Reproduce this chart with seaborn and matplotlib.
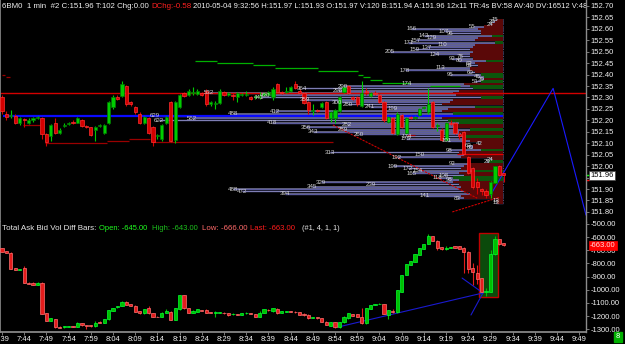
import matplotlib
matplotlib.use("Agg")
import matplotlib.pyplot as plt
from matplotlib.transforms import blended_transform_factory
from matplotlib.patches import Rectangle
import numpy as np
import pandas as pd
import seaborn as sns

# ---------------- DATA ----------------
time_labels = ["7:39", "7:44", "7:49", "7:54", "7:59", "8:04", "8:09", "8:14", "8:19",
               "8:24", "8:29", "8:34", "8:39", "8:44", "8:49", "8:54", "8:59", "9:04",
               "9:09", "9:14", "9:19", "9:24", "9:29", "9:34", "9:39", "9:44", "9:49"]

price_open = [152.30, 152.23, 152.22, 152.22, 152.19, 152.205, 152.19, 152.20, 152.21, 152.21,
              152.14, 152.13, 152.19, 152.145, 152.175, 152.185, 152.195, 152.19, 152.20, 152.175,
              152.17, 152.16, 152.175, 152.145, 152.19, 152.26, 152.30, 152.305, 152.35, 152.28,
              152.26, 152.23, 152.19, 152.21, 152.17, 152.13, 152.12, 152.19, 152.28, 152.115,
              152.26, 152.32, 152.31, 152.32, 152.315, 152.32, 152.33, 152.27, 152.27, 152.275,
              152.325, 152.31, 152.31, 152.30, 152.31, 152.31, 152.30, 152.30, 152.30, 152.31,
              152.31, 152.30, 152.36, 152.325, 152.325, 152.33, 152.36, 152.33, 152.32, 152.28,
              152.24, 152.245, 152.26, 152.28, 152.21, 152.21, 152.24, 152.325, 152.35, 152.30,
              152.30, 152.265, 152.33, 152.305, 152.32, 152.31, 152.28, 152.195, 152.21, 152.14,
              152.225, 152.145, 152.215, 152.21, 152.225, 152.255, 152.235, 152.28, 152.175, 152.16,
              152.115, 152.19, 152.19, 152.14, 152.15, 152.04, 151.99, 151.93, 151.90, 151.89,
              151.88, 151.926, 152.00, 151.97]
price_high = [152.31, 152.24, 152.245, 152.23, 152.215, 152.21, 152.21, 152.215, 152.22, 152.215,
              152.145, 152.185, 152.21, 152.165, 152.19, 152.195, 152.20, 152.215, 152.205, 152.18,
              152.17, 152.175, 152.185, 152.185, 152.285, 152.31, 152.31, 152.37, 152.355, 152.285,
              152.265, 152.235, 152.22, 152.215, 152.175, 152.14, 152.185, 152.22, 152.285, 152.285,
              152.315, 152.325, 152.335, 152.345, 152.335, 152.325, 152.335, 152.285, 152.285, 152.335,
              152.33, 152.325, 152.32, 152.325, 152.32, 152.33, 152.305, 152.31, 152.325, 152.325,
              152.33, 152.345, 152.365, 152.33, 152.345, 152.35, 152.37, 152.335, 152.325, 152.285,
              152.27, 152.25, 152.28, 152.285, 152.24, 152.25, 152.305, 152.35, 152.355, 152.305,
              152.305, 152.37, 152.34, 152.325, 152.33, 152.315, 152.285, 152.22, 152.215, 152.235,
              152.23, 152.215, 152.22, 152.22, 152.255, 152.265, 152.34, 152.285, 152.19, 152.165,
              152.195, 152.20, 152.195, 152.15, 152.155, 152.045, 151.995, 151.95, 151.905, 151.90,
              151.935, 152.00, 152.005, 151.97]
price_low = [152.23, 152.20, 152.21, 152.185, 152.18, 152.17, 152.185, 152.195, 152.205, 152.12,
             152.09, 152.11, 152.14, 152.14, 152.17, 152.18, 152.185, 152.19, 152.17, 152.165,
             152.13, 152.11, 152.17, 152.14, 152.185, 152.25, 152.29, 152.30, 152.265, 152.265,
             152.23, 152.185, 152.185, 152.14, 152.09, 152.12, 152.11, 152.185, 152.105, 152.10,
             152.255, 152.30, 152.305, 152.31, 152.31, 152.305, 152.265, 152.265, 152.25, 152.27,
             152.305, 152.305, 152.29, 152.28, 152.305, 152.305, 152.29, 152.295, 152.295, 152.305,
             152.305, 152.29, 152.32, 152.315, 152.32, 152.325, 152.335, 152.315, 152.27, 152.23,
             152.225, 152.235, 152.255, 152.205, 152.195, 152.19, 152.235, 152.32, 152.315, 152.29,
             152.265, 152.26, 152.31, 152.30, 152.31, 152.275, 152.195, 152.19, 152.14, 152.135,
             152.165, 152.14, 152.205, 152.205, 152.22, 152.25, 152.23, 152.165, 152.155, 152.11,
             152.11, 152.18, 152.14, 152.12, 152.05, 151.965, 151.90, 151.88, 151.875, 151.86,
             151.86, 151.925, 151.955, 151.93]
price_close = [152.24, 152.215, 152.22, 152.19, 152.21, 152.20, 152.20, 152.21, 152.215, 152.14,
               152.105, 152.18, 152.145, 152.16, 152.18, 152.19, 152.19, 152.21, 152.176, 152.17,
               152.135, 152.17, 152.18, 152.18, 152.28, 152.30, 152.295, 152.36, 152.27, 152.27,
               152.235, 152.19, 152.215, 152.145, 152.105, 152.135, 152.18, 152.215, 152.11, 152.28,
               152.31, 152.305, 152.33, 152.325, 152.33, 152.31, 152.27, 152.28, 152.275, 152.33,
               152.31, 152.32, 152.305, 152.32, 152.315, 152.315, 152.295, 152.305, 152.305, 152.32,
               152.325, 152.335, 152.325, 152.32, 152.33, 152.345, 152.34, 152.32, 152.275, 152.245,
               152.245, 152.24, 152.275, 152.21, 152.235, 152.245, 152.30, 152.345, 152.32, 152.295,
               152.27, 152.32, 152.325, 152.32, 152.315, 152.28, 152.20, 152.215, 152.145, 152.23,
               152.17, 152.21, 152.21, 152.215, 152.25, 152.26, 152.27, 152.17, 152.18, 152.115,
               152.19, 152.185, 152.145, 152.13, 152.055, 151.97, 151.91, 151.91, 151.89, 151.875,
               151.93, 152.00, 151.96, 151.96]

diff_open = [-686, -706, -719, -837, -850, -837, -946, -946, -961, -946,
             -1178, -1234, -1221, -1279, -1284, -1279, -1274, -1279, -1254, -1269,
             -1269, -1277, -1241, -1249, -1224, -1158, -1133, -1120, -1090, -1108,
             -1120, -1160, -1178, -1140, -1178, -1203, -1208, -1173, -1166, -1229,
             -1148, -1039, -1140, -1173, -1166, -1153, -1153, -1171, -1176, -1173,
             -1173, -1176, -1186, -1183, -1188, -1178, -1176, -1183, -1203, -1176,
             -1150, -1163, -1143, -1173, -1168, -1163, -1166, -1171, -1181, -1188,
             -1213, -1208, -1216, -1241, -1272, -1246, -1284, -1246, -1216, -1186,
             -1186, -1208, -1254, -1145, -1115, -1108, -1108, -1191, -1160, -1171,
             -1014, -888, -812, -787, -736, -691, -653, -592, -628, -676,
             -693, -681, -671, -671, -681, -711, -837, -870, -913, -1014,
             -1014, -731, -615, -645]
diff_high = [-680, -704, -715, -835, -842, -820, -944, -944, -944, -944,
             -1176, -1212, -1219, -1277, -1272, -1272, -1272, -1247, -1252, -1267,
             -1267, -1239, -1239, -1219, -1151, -1138, -1121, -1088, -1088, -1106,
             -1118, -1158, -1143, -1123, -1176, -1201, -1171, -1148, -1164, -1138,
             -1037, -1037, -1138, -1156, -1146, -1151, -1143, -1169, -1158, -1166,
             -1171, -1174, -1179, -1181, -1176, -1171, -1174, -1181, -1163, -1146,
             -1148, -1138, -1141, -1161, -1158, -1161, -1164, -1169, -1176, -1186,
             -1206, -1206, -1214, -1239, -1244, -1244, -1244, -1201, -1176, -1184,
             -1184, -1140, -1138, -1113, -1106, -1103, -1106, -1151, -1143, -999,
             -886, -805, -780, -729, -684, -651, -577, -590, -626, -674,
             -666, -674, -669, -669, -679, -709, -797, -812, -911, -990,
             -698, -590, -613, -643]
diff_low = [-711, -721, -845, -848, -852, -946, -954, -961, -963, -1183,
            -1236, -1236, -1286, -1289, -1286, -1281, -1281, -1281, -1271, -1294,
            -1279, -1284, -1251, -1251, -1226, -1160, -1135, -1122, -1117, -1125,
            -1168, -1180, -1180, -1180, -1210, -1210, -1210, -1175, -1231, -1231,
            -1150, -1142, -1175, -1175, -1168, -1162, -1175, -1178, -1203, -1175,
            -1180, -1195, -1188, -1193, -1190, -1180, -1185, -1205, -1205, -1178,
            -1157, -1165, -1180, -1175, -1170, -1170, -1173, -1190, -1196, -1218,
            -1215, -1218, -1243, -1269, -1274, -1286, -1286, -1248, -1218, -1198,
            -1205, -1256, -1256, -1147, -1117, -1110, -1185, -1224, -1178, -1173,
            -1016, -890, -814, -789, -738, -693, -655, -632, -700, -695,
            -695, -683, -683, -693, -875, -875, -964, -959, -1016, -1044,
            -1016, -733, -657, -666]
diff_close = [-711, -721, -845, -848, -842, -946, -954, -961, -946, -1183,
              -1234, -1214, -1284, -1287, -1274, -1274, -1279, -1249, -1269, -1277,
              -1277, -1249, -1249, -1221, -1153, -1140, -1123, -1090, -1115, -1123,
              -1166, -1178, -1145, -1178, -1208, -1208, -1173, -1163, -1229, -1140,
              -1039, -1140, -1173, -1158, -1148, -1160, -1173, -1176, -1171, -1168,
              -1178, -1193, -1181, -1191, -1178, -1173, -1183, -1203, -1176, -1148,
              -1155, -1140, -1178, -1163, -1160, -1168, -1171, -1188, -1188, -1216,
              -1208, -1216, -1241, -1267, -1246, -1284, -1246, -1203, -1178, -1196,
              -1203, -1254, -1140, -1115, -1108, -1105, -1183, -1153, -1168, -1001,
              -888, -807, -782, -731, -686, -653, -592, -630, -681, -693,
              -681, -676, -681, -691, -711, -845, -868, -918, -1014, -1006,
              -731, -615, -655, -663]

# volume ladder (price levels from 152.64 down by one tick of 0.01)
profile_top_price = 152.64
profile_tick = 0.01
profile_volume = [15, 20, 24, 55, 166, 107, 96, 143, 129, 157,
                  171, 110, 137, 159, 205, 124, 78, 92, 80, 62,
                  61, 113, 178, 60, 95, 46, 39, 51, 174, 290,
                  364, 298, 532, 430, 441, 359, 300, 280, 241, 199,
                  412, 488, 629, 562, 622, 418, 282, 356, 289, 343,
                  260, 174, 175, 101, 42, 63, 60, 98, 313, 150,
                  192, 24, 29, 92, 199, 172, 154, 165, 108, 118,
                  98, 329, 239, 345, 488, 472, 394, 141, 83, 13, 13]
profile_delta = [-10, -15, -20, -35, -45, -40, -40, 20, -45, -50,
                 15, -50, -55, -60, -55, -60, -60, -55, 30, -50,
                 -45, -60, -60, -50, 40, 35, -35, 40, -70, 60,
                 55, -80, -90, -85, 40, -90, -95, -110, 50, -100,
                 -110, 90, -100, -110, 100, 80, -90, -85, 60, -80,
                 -75, 70, -70, -60, -40, -55, -55, 40, -80, -70,
                 -75, -20, 25, -60, -70, -75, 50, -80, -70, 90,
                 80, -90, -80, -75, -80, -70, -60, -75, -70, -10, -10]
profile_anchor = 112.8        # bar index where the ladder is anchored
profile_scale = 0.1245        # bar widths per contract

# reference levels and drawn objects (bar index, value)
red_level = 152.32
blue_level = 152.22
blue_level_start = 0.2
support_start = [0.0, 1.0, 4.7, 9.7, 23.6, 28.6, 34.0, 91.2]
support_end = [0.7, 1.8, 8.6, 23.6, 28.6, 33.3, 74.5, 93.0]
support_price = [152.398, 152.389, 152.18, 152.101, 152.11, 152.118, 152.107, 152.136]
bright_red_seg = [102.5, 112.8, 152.053]
step_start = [43.5, 48.4, 56.5, 61.5, 71.2, 80.2, 81.3, 82.9, 85.6, 96.4]
step_end = [48.4, 56.5, 61.5, 71.2, 80.2, 81.3, 82.9, 85.6, 91.9, 103.2]
step_price = [152.459, 152.451, 152.440, 152.428, 152.417, 152.398, 152.389, 152.376, 152.365, 152.35]
trend_red1_t = [74.5, 107.0]
trend_red1_p = [152.18, 151.86]
trend_red2_t = [101.4, 112.2]
trend_red2_p = [151.80, 151.865]
proj_blue_t = [110.0, 124.1, 131.5]
proj_blue_p = [151.874, 152.34, 151.786]
diff_blue1_t = [75.7, 108.3]
diff_blue1_v = [-1282, -1024]
diff_blue2_t = [103.6, 108.3]
diff_blue2_v = [-911, -1024]
diff_blue3_t = [105.6, 108.3]
diff_blue3_v = [-1191, -1024]
box_t = [107.4, 111.7]
box_v = [-1055, -570]
bid_price = 151.94
ask_price = 151.96
price_ticks = [151.80, 151.85, 151.90, 151.95, 152.00, 152.05, 152.10, 152.15, 152.20,
               152.25, 152.30, 152.35, 152.40, 152.45, 152.50, 152.55, 152.60, 152.65, 152.70]
diff_ticks = [-1300, -1200, -1100, -1000, -900, -800, -700, -600, -500]

# ---------------- STYLE ----------------
sns.set_theme(style="dark")
plt.rcParams['font.family'] = ['Liberation Sans', 'DejaVu Sans']
plt.rcParams['axes.facecolor'] = 'black'
plt.rcParams['figure.facecolor'] = 'black'

W, H = 625, 344
fig = plt.figure(figsize=(W / 100, H / 100), dpi=100)
fig.patch.set_facecolor('black')


def rect(x0, y0, x1, y1):
    return [x0 / W, 1 - y1 / H, (x1 - x0) / W, (y1 - y0) / H]


ax1 = fig.add_axes(rect(0, 0, 586, 222))
ax2 = fig.add_axes(rect(0, 222, 586, 332))
GRAY = '#8c8c8c'
for ax in (ax1, ax2):
    ax.set_facecolor('black')
    ax.grid(False)
    for s in ax.spines.values():
        s.set_visible(False)
    ax.spines['right'].set_visible(True)
    ax.spines['right'].set_color(GRAY)
    ax.spines['right'].set_linewidth(1.0)
    ax.spines['left'].set_visible(True)
    ax.spines['left'].set_color(GRAY)
    ax.spines['left'].set_linewidth(1.2)
    ax.set_xlim(-0.45, 131.5)
ax2.spines['bottom'].set_visible(True)
ax2.spines['bottom'].set_color(GRAY)
ax1.set_ylim(151.756, 152.726)
ax2.set_ylim(-1320, -486)

# ---------------- volume ladder ----------------
prof = pd.DataFrame({'volume': profile_volume, 'delta': profile_delta})
prof['price'] = [round(profile_top_price - profile_tick * i, 2) for i in range(len(prof))]
prof['left'] = profile_anchor - prof['volume'] * profile_scale
ax1.hlines(prof['price'], prof['left'], profile_anchor, color='#5c5ca0', lw=1.0, zorder=1)
ax1.hlines(prof['price'] + 0.0035, prof['left'], profile_anchor, color='#9a9ac4', lw=0.4, zorder=1)
blk_w = prof['delta'].abs() * profile_scale
blk_col = np.where(prof['delta'] > 0, '#0c560c', '#5a0808')
ax1.barh(prof['price'], blk_w, left=profile_anchor - blk_w, height=0.0098,
         color=blk_col, linewidth=0, zorder=1.5)

# lines
ax1.hlines(red_level, -0.45, 131.5, color='#d40000', lw=1.0, zorder=2)
ax1.hlines(blue_level, blue_level_start, profile_anchor, color='#0a0aff', lw=1.6, zorder=2)
ax1.hlines(support_price, support_start, support_end, color='#9a0000', lw=0.9, zorder=2)
ax1.hlines(bright_red_seg[2], bright_red_seg[0], bright_red_seg[1], color='#e00000', lw=0.9, zorder=2)
ax1.hlines(step_price, step_start, step_end, color='#00b000', lw=0.9, zorder=2)
sns.lineplot(x=trend_red1_t, y=trend_red1_p, ax=ax1, color='#d00000', lw=0.8,
             linestyle=(0, (2, 1)), zorder=2.5, legend=False)
sns.lineplot(x=trend_red2_t, y=trend_red2_p, ax=ax1, color='#d00000', lw=0.8,
             linestyle=(0, (2, 1)), zorder=2.5, legend=False)
sns.lineplot(x=proj_blue_t, y=proj_blue_p, ax=ax1, color='#1a1aff', lw=0.8,
             sort=False, estimator=None, zorder=2.5, legend=False)


def candles(ax, o, h, l, c, up_face, up_edge, dn_face, dn_edge, minh):
    df = pd.DataFrame({'o': o, 'h': h, 'l': l, 'c': c})
    df['t'] = np.arange(len(df))
    up = (df['c'] >= df['o']).values
    edge = np.where(up, up_edge, dn_edge)
    face = np.where(up, up_face, dn_face)
    ax.vlines(df['t'], df['l'], df['h'], colors=np.where(up, up_face, dn_face), lw=0.8, zorder=3)
    bottoms = np.minimum(df['o'], df['c'])
    heights = np.maximum((df['c'] - df['o']).abs(), minh)
    ax.bar(df['t'], heights, bottom=bottoms, width=0.72, color=face, edgecolor=edge,
           linewidth=0.5, zorder=3.1)


candles(ax1, price_open, price_high, price_low, price_close,
        '#00cc00', '#007a00', '#d40000', '#ff3030', 0.003)

# ladder labels on top
for _, r in prof.iterrows():
    ax1.text(r['left'], r['price'], f"{int(r['volume'])}", ha='center', va='center',
             fontsize=4.4, color='#d4d4d4', zorder=5)

# bottom panel
ax2.add_patch(Rectangle((box_t[0], box_v[0]), box_t[1] - box_t[0], box_v[1] - box_v[0],
                        facecolor='#0b4a0b', edgecolor='#c00000', lw=1.0, zorder=1))
sns.lineplot(x=diff_blue1_t, y=diff_blue1_v, ax=ax2, color='#1a1ad0', lw=0.8, zorder=2, legend=False)
sns.lineplot(x=diff_blue2_t, y=diff_blue2_v, ax=ax2, color='#1a1ad0', lw=0.8, zorder=2, legend=False)
sns.lineplot(x=diff_blue3_t, y=diff_blue3_v, ax=ax2, color='#1a1ad0', lw=0.8, zorder=2, legend=False)
candles(ax2, diff_open, diff_high, diff_low, diff_close,
        '#00c000', '#00ff30', '#e41c1c', '#ff7070', 3)

# ---------------- axes ticks ----------------
ax1.yaxis.tick_right()
ax1.set_yticks(price_ticks)
ax1.set_yticklabels([f"{v:.2f}" for v in price_ticks])
ax2.yaxis.tick_right()
ax2.set_yticks(diff_ticks)
ax2.set_yticklabels([f"{v:.2f}" for v in diff_ticks])
for ax in (ax1, ax2):
    ax.tick_params(axis='y', which='both', colors=GRAY, labelcolor='#f0f0f0', labelsize=5.5,
                   length=2, width=0.6, pad=1, direction='out', right=True, left=False)
    ax.set_xlabel('')
    ax.set_ylabel('')
ax1.set_xticks([])
ax2.set_xticks([5 * i for i in range(len(time_labels))])
ax2.set_xticklabels(time_labels)
ax2.tick_params(axis='x', colors=GRAY, labelcolor='#f0f0f0', labelsize=5.5, length=2,
                width=0.6, pad=1, direction='out', bottom=True)

# price markers on the axis
tr1 = blended_transform_factory(fig.transFigure, ax1.transData)
tr2 = blended_transform_factory(fig.transFigure, ax2.transData)
ax1.plot([586 / W, 589 / W], [ask_price, ask_price], transform=tr1, color='#00ff00', lw=1.0, clip_on=False)
ax1.plot([586 / W, 589 / W], [bid_price, bid_price], transform=tr1, color='#ff0000', lw=1.0, clip_on=False)
ax1.text(590 / W, price_close[-1], f"{price_close[-1]:.2f}", transform=tr1, ha='left', va='center',
         fontsize=5.5, color='black', clip_on=False, zorder=10,
         bbox=dict(boxstyle='square,pad=0.15', fc='white', ec='#404040', lw=0.5))
ax2.text(590 / W, diff_close[-1], f"{diff_close[-1]:.2f}", transform=tr2, ha='left', va='center',
         fontsize=5.5, color='#ffe0e0', clip_on=False, zorder=10,
         bbox=dict(boxstyle='square,pad=0.15', fc='#ff0000', ec='#ff0000', lw=0.5))
fig.text(618 / W, 1 - 337 / H, "8", ha='center', va='center', fontsize=5.5, color='white',
         bbox=dict(boxstyle='square,pad=0.2', fc='#00b000', ec='#00b000'))

# ---------------- header texts ----------------
renderer = fig.canvas.get_renderer()


def put(x_px, y_px, s, color, w_px=None, size=5.5, clip_ax=None, extra=''):
    t = fig.text(x_px / W, 1 - y_px / H, s, color=color, fontsize=size, ha='left', va='center')
    if w_px:
        bb = t.get_window_extent(renderer)
        t.set_fontsize(size * w_px / bb.width)
    if extra:
        t.set_text(s + extra)
    if clip_ax is not None:
        t.set_clip_on(True)
        t.set_clip_box(clip_ax.bbox)
    return t


put(2, 6, "6BM0  1 min  #2 C:151.96 T:102 Chg:0.00", '#f0f0f0', w_px=146)
put(151, 6, "DChg:-0.58", '#ff2020', w_px=40)
put(193, 6, "2010-05-04 9:32:56 H:151.97 L:151.93 O:151.97 V:120 B:151.94 A:151.96 12x11 TR:4s BV:58 AV:40 DV:16512",
    '#f0f0f0', w_px=377, clip_ax=ax1, extra=" V:4850")

put(2, 228, "Total Ask Bid Vol Diff Bars:", '#e8e8e8', w_px=95)
put(99, 228, f"Open: {diff_open[-1]:.2f}", '#20ff20', w_px=48)
put(152, 228, f"High: {diff_high[-1]:.2f}", '#1cc01c', w_px=46)
put(202, 228, f"Low: {diff_low[-1]:.2f}", '#ff6a6a', w_px=45)
put(250, 228, f"Last: {diff_close[-1]:.2f}", '#ff1c1c', w_px=45)
put(302, 228, "(#1, 4, 1, 1)", '#e8e8e8', w_px=38)

fig.savefig("out.png", dpi=100, facecolor='black')
